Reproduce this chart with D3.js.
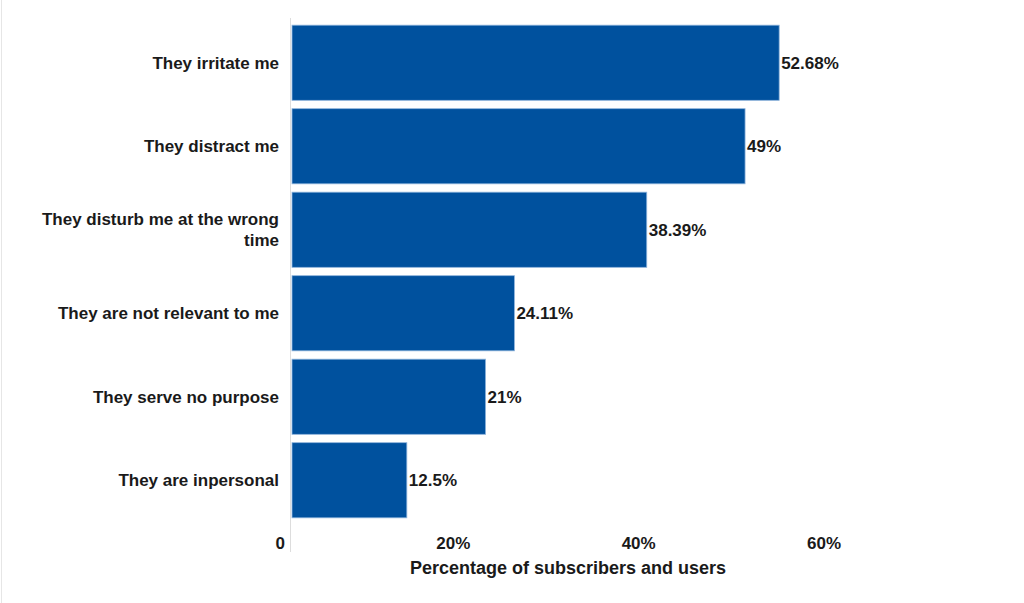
<!DOCTYPE html>
<html><head><meta charset="utf-8">
<script src="https://cdn.jsdelivr.net/npm/d3@7"></script>
<style>
body{margin:0;background:#fff;}
text{font-family:"Liberation Sans",Arial,sans-serif;font-weight:bold;fill:#1a1a1a;}
</style></head>
<body><svg id="c" width="1024" height="603"></svg>
<script>
const categories = ["They irritate me","They distract me","They disturb me at the wrong time","They are not relevant to me","They serve no purpose","They are inpersonal"];
const labelLines = [["They irritate me"],["They distract me"],["They disturb me at the wrong","time"],["They are not relevant to me"],["They serve no purpose"],["They are inpersonal"]];
const values = [52.68,49,38.39,24.11,21,12.5];
const valueLabels = ["52.68%","49%","38.39%","24.11%","21%","12.5%"];
const tickValues = [0,20,40,60];
const tickLabels = ["0","20%","40%","60%"];
const xTitle = "Percentage of subscribers and users";

const svg = d3.select("#c");
svg.append("line").attr("x1",1.5).attr("x2",1.5).attr("y1",0).attr("y2",603).attr("stroke","#e6e6e6");

const x = d3.scaleLinear().domain([0,60]).range([291,847]);
const y = d3.scaleBand().domain(categories).range([21,522]).paddingInner(0.1).paddingOuter(0.05);

svg.append("line").attr("x1",290.5).attr("x2",290.5).attr("y1",18).attr("y2",552).attr("stroke","#dddddd");

svg.selectAll("rect.bar").data(values).join("rect")
  .attr("x",x(0)+1).attr("y",(d,i)=>y(categories[i]))
  .attr("width",d=>x(d)-x(0)-1).attr("height",y.bandwidth())
  .attr("fill","#00519e").attr("stroke","#8fb4dc").attr("stroke-width",0.8);

svg.selectAll("text.val").data(values).join("text")
  .attr("x",d=>x(d)+2).attr("y",(d,i)=>y(categories[i])+y.bandwidth()/2+6)
  .attr("font-size",17).text((d,i)=>valueLabels[i]);

labelLines.forEach((lines,i)=>{
  const cy = y(categories[i])+y.bandwidth()/2;
  const t = svg.append("text").attr("text-anchor","end").attr("font-size",17);
  lines.forEach((l,j)=>{
    t.append("tspan").attr("x",279).attr("y",cy+6+(j-(lines.length-1)/2)*21).text(l);
  });
});

svg.selectAll("text.tick").data(tickValues).join("text")
  .attr("text-anchor","end").attr("x",d=>x(d)-6).attr("y",549)
  .attr("font-size",17).text((d,i)=>tickLabels[i]);

svg.append("text").attr("text-anchor","middle").attr("x",568).attr("y",574)
  .attr("font-size",18).text(xTitle);
</script></body></html>
